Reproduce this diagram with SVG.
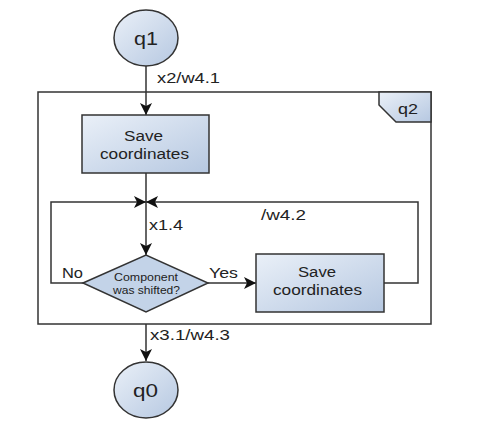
<svg xmlns="http://www.w3.org/2000/svg" width="480" height="441" viewBox="0 0 480 441">
<defs>
<linearGradient id="g" x1="0" y1="0" x2="1" y2="1">
<stop offset="0" stop-color="#eaf0f8"/>
<stop offset="1" stop-color="#b6c8e1"/>
</linearGradient>
<marker id="arr" viewBox="0 0 12 12" refX="12" refY="6" markerWidth="12" markerHeight="12" markerUnits="userSpaceOnUse" orient="auto">
<path d="M0,0 L12,6 L0,12 L3,6 Z" fill="#111"/>
</marker>
<style>
.s{fill:url(#g);stroke:#333;stroke-width:1.5}
.c{fill:none;stroke:#333;stroke-width:1.5}
.t{font-family:"Liberation Sans",Arial,sans-serif;fill:#222}
</style>
</defs>
<rect width="480" height="441" fill="#fff"/>
<g id="frame">
<rect x="38" y="92" width="393" height="232" fill="none" stroke="#333" stroke-width="1.5"/>
<path d="M379,92 V105 L396,122 H431 V92 Z" class="s"/>
<text class="t" x="398" y="114" font-size="15" textLength="20" lengthAdjust="spacingAndGlyphs">q2</text>
</g>
<g id="connectors">
<path class="c" d="M146,66 V115" marker-end="url(#arr)"/>
<path class="c" d="M146,173 V255" marker-end="url(#arr)"/>
<path class="c" d="M83,283 H51 V202 H146" marker-end="url(#arr)"/>
<path class="c" d="M384,283 H418 V202 H146" marker-end="url(#arr)"/>
<path class="c" d="M208,283 H256" marker-end="url(#arr)"/>
<path class="c" d="M146,324 V361" marker-end="url(#arr)"/>
<text class="t" x="157" y="83" font-size="15.5" textLength="63" lengthAdjust="spacingAndGlyphs">x2/w4.1</text>
<text class="t" x="149" y="230" font-size="15.5" textLength="34" lengthAdjust="spacingAndGlyphs">x1.4</text>
<text class="t" x="261" y="220" font-size="15.5" textLength="45" lengthAdjust="spacingAndGlyphs">/w4.2</text>
<text class="t" x="62" y="278" font-size="15.5" textLength="21" lengthAdjust="spacingAndGlyphs">No</text>
<text class="t" x="209" y="278" font-size="15.5" textLength="29" lengthAdjust="spacingAndGlyphs">Yes</text>
<text class="t" x="150" y="340" font-size="15.5" textLength="80" lengthAdjust="spacingAndGlyphs">x3.1/w4.3</text>
</g>
<g id="q1">
<ellipse class="s" cx="146" cy="38" rx="32" ry="28"/>
<text class="t" x="134" y="45" font-size="19" textLength="24" lengthAdjust="spacingAndGlyphs">q1</text>
</g>
<g id="save1">
<rect class="s" x="82" y="115" width="127" height="58"/>
<text class="t" x="124" y="141" font-size="15.5" textLength="39" lengthAdjust="spacingAndGlyphs">Save</text>
<text class="t" x="100" y="159" font-size="15.5" textLength="89" lengthAdjust="spacingAndGlyphs">coordinates</text>
</g>
<g id="decision">
<path d="M83,283 L146,255 L208,283 L146,312 Z" fill="#c3d3e8" stroke="#333" stroke-width="1.5"/>
<text class="t" x="114" y="281" font-size="11" textLength="64" lengthAdjust="spacingAndGlyphs">Component</text>
<text class="t" x="113" y="294" font-size="11" textLength="67" lengthAdjust="spacingAndGlyphs">was shifted?</text>
</g>
<g id="save2">
<rect class="s" x="256" y="254" width="128" height="58"/>
<text class="t" x="298" y="277" font-size="15.5" textLength="38" lengthAdjust="spacingAndGlyphs">Save</text>
<text class="t" x="273" y="295" font-size="15.5" textLength="89" lengthAdjust="spacingAndGlyphs">coordinates</text>
</g>
<g id="q0">
<ellipse class="s" cx="146" cy="390" rx="32" ry="28"/>
<text class="t" x="133" y="397" font-size="19" textLength="25" lengthAdjust="spacingAndGlyphs">q0</text>
</g>
</svg>
